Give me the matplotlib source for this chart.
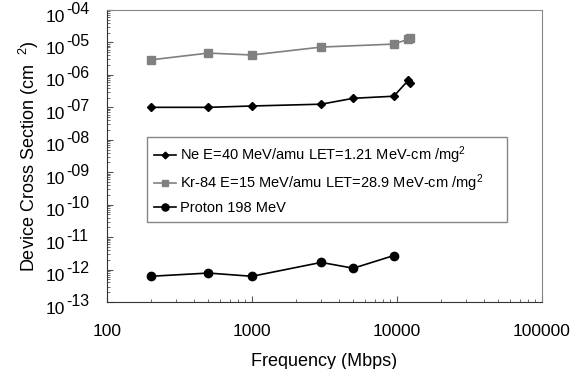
import matplotlib
matplotlib.use("Agg")
import matplotlib.pyplot as plt
import matplotlib.transforms as mtransforms
from matplotlib.ticker import LogLocator, FuncFormatter, NullFormatter
import numpy as np

plt.rcParams['font.family'] = ['Liberation Sans', 'DejaVu Sans']
plt.rcParams['mathtext.fontset'] = 'custom'
plt.rcParams['mathtext.rm'] = 'Liberation Sans'
plt.rcParams['mathtext.it'] = 'Liberation Sans'
plt.rcParams['mathtext.bf'] = 'Liberation Sans:bold'

ne_x = [200, 500, 1000, 3000, 5000, 9500, 12000, 12200]
ne_y = [1.0e-7, 1.0e-7, 1.1e-7, 1.25e-7, 1.9e-7, 2.2e-7, 6.9e-7, 5.5e-7]
kr_x = [200, 500, 1000, 3000, 9500, 12000, 12200]
kr_y = [2.9e-6, 4.7e-6, 4.1e-6, 7.2e-6, 8.9e-6, 1.26e-5, 1.4e-5]
pr_x = [200, 500, 1000, 3000, 5000, 9500]
pr_y = [6.2e-13, 7.8e-13, 6.2e-13, 1.66e-12, 1.1e-12, 2.7e-12]

labels = ["Ne E=40 MeV/amu LET=1.21 MeV-cm /mg$^{2}$",
          "Kr-84 E=15 MeV/amu LET=28.9 MeV-cm /mg$^{2}$",
          "Proton 198 MeV"]
y_exponents = list(range(-4, -14, -1))

W, H = 578, 369
fig = plt.figure(figsize=(W/100, H/100), dpi=100)
ax = fig.add_axes([107/W, 1 - 302/H, (542-107)/W, (302-10)/H])

ax.plot(ne_x, ne_y, color='black', marker='D', markersize=4, lw=1.2, label=labels[0])
ax.plot(kr_x, kr_y, color='#808080', marker='s', markersize=5.5, lw=1.2, label=labels[1])
ax.plot(pr_x, pr_y, color='black', marker='o', markersize=6, lw=1.2, label=labels[2])

ax.set_xscale('log')
ax.set_yscale('log')
ax.set_xlim(100, 100000)
ax.set_ylim(1e-13, 1e-4)

ax.yaxis.set_major_locator(LogLocator(base=10, numticks=20))
ax.yaxis.set_minor_locator(LogLocator(base=10, subs=np.arange(2, 10), numticks=100))
ax.yaxis.set_minor_formatter(NullFormatter())
ax.yaxis.set_major_formatter(NullFormatter())
ax.xaxis.set_major_formatter(FuncFormatter(lambda v, p: "%d" % round(v)))
ax.xaxis.set_minor_formatter(NullFormatter())

ax.tick_params(axis='both', which='both', direction='in', color='#555555')
ax.tick_params(axis='both', which='major', length=4)
ax.tick_params(axis='both', which='minor', length=2.5)
ax.tick_params(axis='x', which='major', labelsize=12.5, pad=16)

# y tick labels drawn as "10" with a raised exponent, as in the reference
blend = mtransforms.blended_transform_factory(fig.transFigure, ax.transData)
base_tr = mtransforms.offset_copy(blend, fig=fig, x=0, y=-7, units='dots')
sup_tr = mtransforms.offset_copy(blend, fig=fig, x=0, y=1, units='dots')
for e in y_exponents:
    v = 10.0 ** e
    ax.text(65/W, v, "10", transform=base_tr, ha='right', va='center', fontsize=12.5)
    ax.text(66/W, v, "-%02d" % (-e), transform=sup_tr, ha='left', va='center', fontsize=11.5)

for s in ['left', 'bottom']:
    ax.spines[s].set_color('#333333')
for s in ['top', 'right']:
    ax.spines[s].set_color('#888888')

ax.set_xlabel("Frequency (Mbps)", fontsize=13, labelpad=10)
ax.set_ylabel(r"Device Cross Section (cm  $^{2}$)", fontsize=13)
ax.yaxis.set_label_coords((41-107)/435, 0.5)

leg = ax.legend(loc='upper left',
                bbox_to_anchor=((147-107)/435, 0.265, (507-147)/435, 0.3),
                mode='expand', borderaxespad=0,
                fontsize=10.5, frameon=True, fancybox=False, handlelength=1.5,
                borderpad=0.5, labelspacing=0.45, handletextpad=0.25,
                markerscale=0.85)
leg.get_frame().set_edgecolor('#666666')
leg.get_frame().set_linewidth(1.0)

fig.savefig("out.png", dpi=100)
